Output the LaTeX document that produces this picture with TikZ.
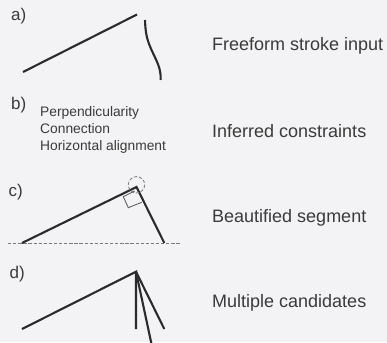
\documentclass[tikz,border=0pt]{standalone}
\usepackage{fontspec}
\setmainfont{Liberation Sans}
\definecolor{bgcol}{HTML}{F3F3F5}
\definecolor{inkcol}{HTML}{2B2B2B}
\definecolor{txtcol}{HTML}{3A3A3A}
\definecolor{dashcol}{HTML}{7A7A7A}
\begin{document}
\begin{tikzpicture}[x=1pt,y=-1pt,
  stroke/.style={draw=inkcol,line width=2.1pt},
  guide/.style={draw=dashcol,line width=0.9pt,dash pattern=on 3.3pt off 1.8pt},
  caption/.style={anchor=base west,inner sep=0pt,text=txtcol,font=\fontsize{18}{20}\selectfont},
  tag/.style={anchor=base west,inner sep=0pt,text=txtcol,font=\fontsize{17}{19}\selectfont},
  small/.style={anchor=base west,inner sep=0pt,text=txtcol,font=\fontsize{13.8}{16}\selectfont}]
\fill[bgcol] (0,0) rectangle (387,342);
\useasboundingbox (0,0) rectangle (387,342);
% labels
\node[tag] (la) at (11,20.7) {a)};
\node[tag] (lb) at (11,109.3) {b)};
\node[tag] (lc) at (8.5,196) {c)};
\node[tag] (ld) at (9.5,278.3) {d)};
% captions
\node[caption] (ca) at (212,50.7) {Freeform stroke input};
\node[caption] (cb) at (212,137.7) {Inferred constraints};
\node[caption] (cc) at (212,222.7) {Beautified segment};
\node[caption] (cd) at (212,307.7) {Multiple candidates};
% b) constraints
\node[small] (p1) at (40,116.7) {Perpendicularity};
\node[small] (p2) at (40,133.4) {Connection};
\node[small] (p3) at (40,150.3) {Horizontal alignment};
% a) freeform strokes
\draw[stroke] (23,72) -- (137,14.5);
\draw[stroke] (145,20) .. controls (145.5,34) and (147,40) .. (152,51)
  .. controls (157,62) and (161,68) .. (160.7,80);
% c) beautified
\draw[guide] (8,243) -- (180,243);
\draw[stroke] (22,243) -- (136.5,187) -- (164.3,243);
\draw[guide,line width=0.8pt] (136.5,184.8) circle (8.2);
\draw[draw=dashcol!80!black,line width=0.9pt] (134.7,191) -- (123.3,196.7) -- (128.3,207.7) -- (141.7,202.3);
% d) candidates
\draw[stroke] (22,329) -- (136,271.7) -- (136,329);
\draw[stroke] (136,271.7) -- (164.3,329);
\draw[stroke] (136,271.7) -- (151.5,344);
\end{tikzpicture}
\end{document}
